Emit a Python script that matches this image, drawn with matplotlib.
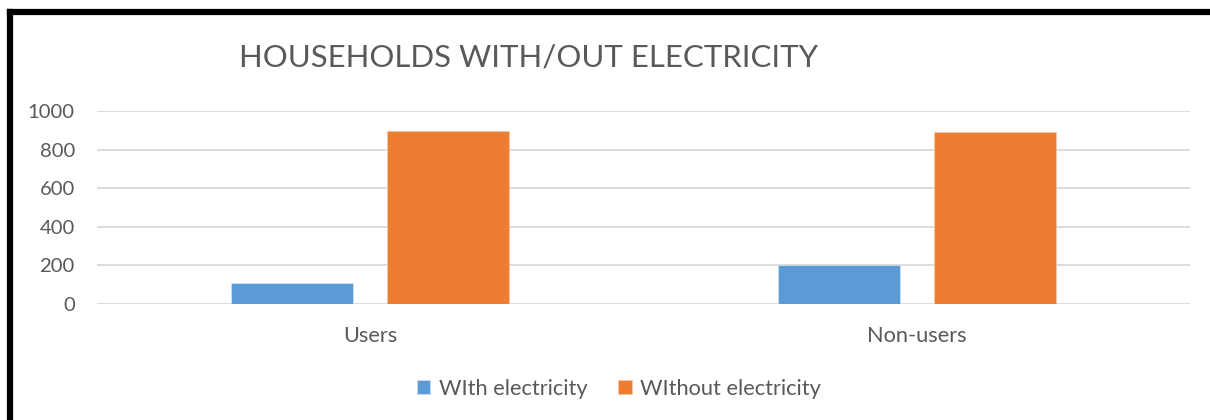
import matplotlib
matplotlib.use("Agg")
import matplotlib.pyplot as plt
import numpy as np
from matplotlib.lines import Line2D

categories = ["Users", "Non-users"]
series_names = ["WIth electricity", "WIthout electricity"]
with_elec = [107, 202]
without_elec = [895, 890]
yticks = [0, 200, 400, 600, 800, 1000]

plt.rcParams['font.family'] = ['Lato', 'DejaVu Sans']
txt = "#595959"
fig = plt.figure(figsize=(12.1, 4.2), dpi=100)
ax = fig.add_axes([97/1210, (420-304)/420, (1190-97)/1210, (304-111)/420])

x = np.arange(len(categories))
w = 0.223
off = 0.143
ax.bar(x - off, with_elec, w, color="#5B9BD5", edgecolor="#d6e4f2", linewidth=0.5, label=series_names[0], zorder=3)
ax.bar(x + off, without_elec, w, color="#ED7D31", edgecolor="#f6c9a8", linewidth=0.5, label=series_names[1], zorder=3)

ax.set_xlim(-0.5, 1.5)
ax.set_ylim(0, 1000)
ax.set_yticks(yticks)
ax.set_xticks(x)
ax.set_xticklabels(categories, fontsize=15.7)
ax.grid(axis="y", color="#d9d9d9", linewidth=1.3, zorder=0)
for s in ax.spines.values():
    s.set_visible(False)
ax.tick_params(axis="both", length=0, colors=txt)
ax.tick_params(axis="y", labelsize=14.6, pad=16)
ax.tick_params(axis="x", pad=16)

fig.text(529/1210, (420-58)/420, "HOUSEHOLDS WITH/OUT ELECTRICITY", ha="center", va="center",
         fontsize=22.4, color=txt)

fig.legend(loc="center", bbox_to_anchor=(619/1210, (420-389)/420), ncol=2, frameon=False,
           fontsize=15.7, labelcolor=txt, handlelength=0.62, handleheight=0.62,
           handletextpad=0.4, columnspacing=1.4)

fig.add_artist(Line2D([10/1210, 10/1210], [(420-12)/420, -0.05], color="black", linewidth=4.5,
                      transform=fig.transFigure, solid_capstyle="projecting"))
fig.add_artist(Line2D([10/1210, 1.05], [(420-12)/420, (420-12)/420], color="black", linewidth=4.5,
                      transform=fig.transFigure, solid_capstyle="projecting"))

fig.savefig("out.png", dpi=100, facecolor="white")
